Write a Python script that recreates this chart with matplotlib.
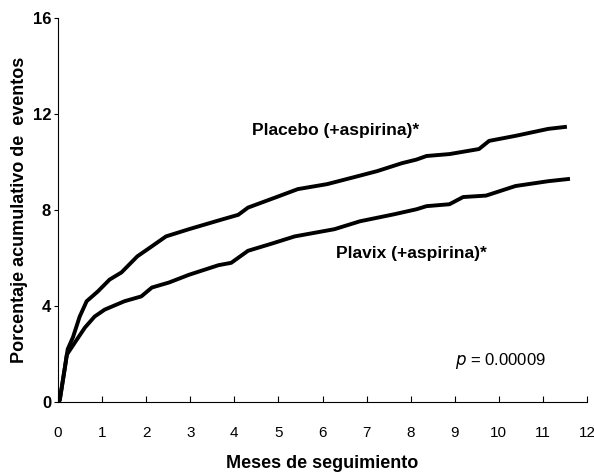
import matplotlib.pyplot as plt

# Placebo (+aspirina) curve
placebo_x = [0, 0.04, 0.16, 0.22, 0.34, 0.49, 0.65, 0.90, 1.17, 1.44, 1.8, 2.1, 2.45, 2.97,
             3.71, 4.09, 4.31, 4.9, 5.44, 6.11, 6.72, 7.24, 7.8, 8.13, 8.36, 8.88, 9.55,
             9.78, 10.38, 11.12, 11.5]
placebo_y = [0, 0.08, 1.46, 2.2, 2.7, 3.55, 4.2, 4.6, 5.1, 5.4, 6.07, 6.45, 6.9, 7.2,
             7.6, 7.8, 8.1, 8.5, 8.87, 9.08, 9.37, 9.62, 9.95, 10.1, 10.25, 10.33, 10.54,
             10.88, 11.09, 11.38, 11.46]

# Plavix (+aspirina) curve
plavix_x = [0, 0.04, 0.2, 0.38, 0.61, 0.83, 1.06, 1.51, 1.89, 2.13, 2.52, 2.97, 3.64, 3.93,
            4.31, 4.85, 5.37, 6.27, 6.85, 7.62, 8.13, 8.36, 8.88, 9.19, 9.71, 10.38,
            11.12, 11.57]
plavix_y = [0, 0.08, 1.97, 2.47, 3.1, 3.56, 3.85, 4.2, 4.4, 4.77, 4.98, 5.3, 5.7, 5.8,
            6.3, 6.6, 6.9, 7.2, 7.53, 7.82, 8.03, 8.16, 8.24, 8.54, 8.6, 9.0,
            9.2, 9.29]

x_ticks = list(range(0, 13))
y_ticks = [0, 4, 8, 12, 16]

plt.rcParams['font.family'] = ['Liberation Sans', 'DejaVu Sans']

fig = plt.figure(figsize=(5.94, 4.75), dpi=100)
ax = fig.add_axes([58/594, 73/475, 529/594, 384/475])

ax.plot(placebo_x, placebo_y, color='black', lw=2.8, solid_joinstyle='round')
ax.plot(plavix_x, plavix_y, color='black', lw=2.8, solid_joinstyle='round')

ax.set_xlim(0, 12)
ax.set_ylim(0, 16)
ax.set_xticks(x_ticks)
ax.set_yticks(y_ticks)
ax.set_yticklabels([str(v) for v in y_ticks], fontweight='bold', fontsize=12)
ax.set_xticklabels([str(v) for v in x_ticks], fontsize=11)
ax.tick_params(axis='x', direction='in', length=4, pad=17)
ax.tick_params(axis='y', direction='out', length=3, pad=2)

ax.spines['top'].set_visible(False)
ax.spines['right'].set_visible(False)

ax.text(4.4, 11.3, 'Placebo (+aspirina)*', fontsize=12.5, fontweight='bold', va='center')
ax.text(6.3, 6.2, 'Plavix (+aspirina)*', fontsize=12.5, fontweight='bold', va='center')
ax.text(9.0, 1.7, r'$p$ = 0.00009', fontsize=12, va='center')

ax.set_ylabel('Porcentaje acumulativo de  eventos', fontsize=13, fontweight='bold', labelpad=3)
ax.set_xlabel('Meses de seguimiento', fontsize=13, fontweight='bold', labelpad=11)

fig.savefig('out.png', dpi=100)
